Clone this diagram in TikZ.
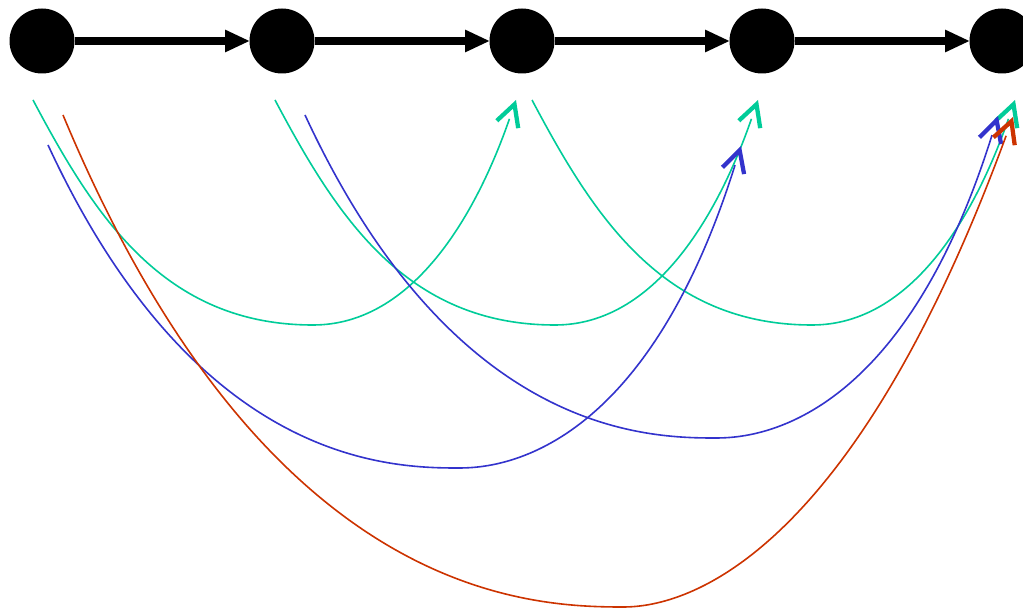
\documentclass[tikz,border=0pt]{standalone}
\usetikzlibrary{arrows.meta}

\definecolor{hopgreen}{HTML}{00CC99}
\definecolor{hopblue}{HTML}{3333CC}
\definecolor{hopred}{HTML}{CC3300}

\begin{document}
\begin{tikzpicture}[
    x=0.75pt, y=-0.75pt,
    stop/.style={circle, fill=black, minimum size=48.75pt, inner sep=0pt},
    seq/.style={-{Triangle[length=18pt, width=17pt, line width=0pt]}, line width=5.6pt},
    hop/.style={line width=1.2pt, shorten >=15pt,
                postaction={draw, shorten >=0pt, dash pattern=on 0pt off 4000pt,
                            -{Straight Barb[length=16pt, width=17pt, line width=3.2pt]}}}
  ]
  \clip (0,0) rectangle (1023,609);

  % the chain of stops
  \node[stop] (s1) at (42,41) {};
  \node[stop] (s2) at (282,41) {};
  \node[stop] (s3) at (522,41) {};
  \node[stop] (s4) at (762,41) {};
  \node[stop] (s5) at (1002,41) {};

  \draw[seq] (s1) -- (s2);
  \draw[seq] (s2) -- (s3);
  \draw[seq] (s3) -- (s4);
  \draw[seq] (s4) -- (s5);

  % ends of the long links
  \coordinate (g1a) at (33,100);  \coordinate (g1b) at (516,100);
  \coordinate (g2a) at (275,100); \coordinate (g2b) at (758,100);
  \coordinate (g3a) at (532,100); \coordinate (g3b) at (1015,100);
  \coordinate (b1a) at (48,145);  \coordinate (b1b) at (741,146);
  \coordinate (b2a) at (305,115); \coordinate (b2b) at (998,116);
  \coordinate (r1a) at (63,115);  \coordinate (r1b) at (1013,117);

  % skip one stop
  \draw[hop, hopgreen] (g1a) .. controls (94,215) and (163,325) .. (313,325)
                             .. controls (413,325) and (476,215) .. (g1b);
  \draw[hop, hopgreen] (g2a) .. controls (336,215) and (405,325) .. (555,325)
                             .. controls (655,325) and (718,215) .. (g2b);
  \draw[hop, hopgreen] (g3a) .. controls (593,215) and (662,325) .. (812,325)
                             .. controls (912,325) and (975,215) .. (g3b);

  % skip two stops
  \draw[hop, hopblue] (b1a) .. controls (194,460) and (384,468) .. (457,468)
                            .. controls (486,468) and (640,468) .. (b1b);
  \draw[hop, hopblue] (b2a) .. controls (451,430) and (641,438) .. (714,438)
                            .. controls (743,438) and (897,438) .. (b2b);

  % skip three stops
  \draw[hop, hopred] (r1a) .. controls (263,595) and (523,607) .. (623,607)
                           .. controls (668,607) and (841,585) .. (r1b);
\end{tikzpicture}
\end{document}
